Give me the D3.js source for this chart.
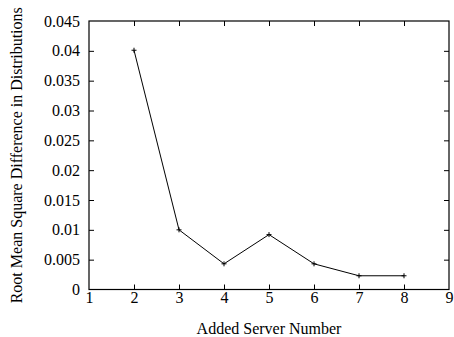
<!DOCTYPE html>
<html>
<head>
<meta charset="utf-8">
<script src="https://cdn.jsdelivr.net/npm/d3@7"></script>
<style>
  body { margin: 0; background: #fff; }
  svg text { font-family: "Liberation Serif", "Times New Roman", serif; fill: #000; }
</style>
</head>
<body>
<svg id="chart" width="454" height="337"></svg>
<script>
var serverNumbers = [2, 3, 4, 5, 6, 7, 8];
var rmsDiff = [0.0401, 0.0100, 0.0043, 0.0092, 0.0043, 0.0023, 0.0023];
var xTicks = [1, 2, 3, 4, 5, 6, 7, 8, 9];
var yTicks = [0, 0.005, 0.01, 0.015, 0.02, 0.025, 0.03, 0.035, 0.04, 0.045];

var svg = d3.select("#chart");
var plotL = 89, plotR = 449, plotT = 21, plotB = 289.5;

var x = d3.scaleLinear().domain([1, 9]).range([plotL, plotR]);
var y = d3.scaleLinear().domain([0, 0.045]).range([plotB, plotT]);

// frame
svg.append("rect")
  .attr("x", plotL).attr("y", plotT)
  .attr("width", plotR - plotL).attr("height", plotB - plotT)
  .attr("fill", "none").attr("stroke", "#000").attr("stroke-width", 1.2);

var tk = 5;
// bottom + top ticks
svg.append("g").attr("transform", "translate(0," + plotB + ")")
  .call(d3.axisBottom(x).tickValues(xTicks).tickFormat(d3.format("d")).tickSize(-tk).tickPadding(2));
svg.append("g").attr("transform", "translate(0," + plotT + ")")
  .call(d3.axisTop(x).tickValues(xTicks).tickFormat("").tickSize(-tk));
// left + right ticks
svg.append("g").attr("transform", "translate(" + plotL + ",0)")
  .call(d3.axisLeft(y).tickValues(yTicks).tickFormat(function(d) { return d === 0 ? "0" : String(+d.toFixed(3)); }).tickSize(-tk).tickPadding(9));
svg.append("g").attr("transform", "translate(" + plotR + ",0)")
  .call(d3.axisRight(y).tickValues(yTicks).tickFormat("").tickSize(-tk));

svg.selectAll(".domain").remove();
svg.selectAll(".tick line").attr("stroke", "#000").attr("stroke-width", 1);
svg.selectAll(".tick text").style("font-size", "16px");
// hide the end ticks that sit on the frame corners
svg.selectAll(".tick").filter(function(d) { return d === 1 || d === 9 || d === 0 || d === 0.045; })
  .select("line").attr("opacity", 0);

// line
var line = d3.line()
  .x(function(d, i) { return x(serverNumbers[i]); })
  .y(function(d) { return y(d); });
svg.append("path")
  .datum(rmsDiff)
  .attr("d", line)
  .attr("fill", "none").attr("stroke", "#000").attr("stroke-width", 1);

// + markers
var m = 2.5;
svg.append("g").selectAll("path")
  .data(rmsDiff)
  .enter()
  .append("path")
  .attr("d", function(d, i) {
    var cx = x(serverNumbers[i]), cy = y(d);
    return "M" + (cx - m) + "," + cy + "H" + (cx + m) + "M" + cx + "," + (cy - m) + "V" + (cy + m);
  })
  .attr("stroke", "#000").attr("stroke-width", 1);

// axis titles
svg.append("text")
  .attr("x", (plotL + plotR) / 2).attr("y", 334)
  .attr("text-anchor", "middle")
  .style("font-size", "16px")
  .text("Added Server Number");

svg.append("text")
  .attr("transform", "translate(22," + ((plotT + plotB) / 2) + ") rotate(-90)")
  .attr("text-anchor", "middle")
  .style("font-size", "16px")
  .text("Root Mean Square Difference in Distributions");
</script>
</body>
</html>
